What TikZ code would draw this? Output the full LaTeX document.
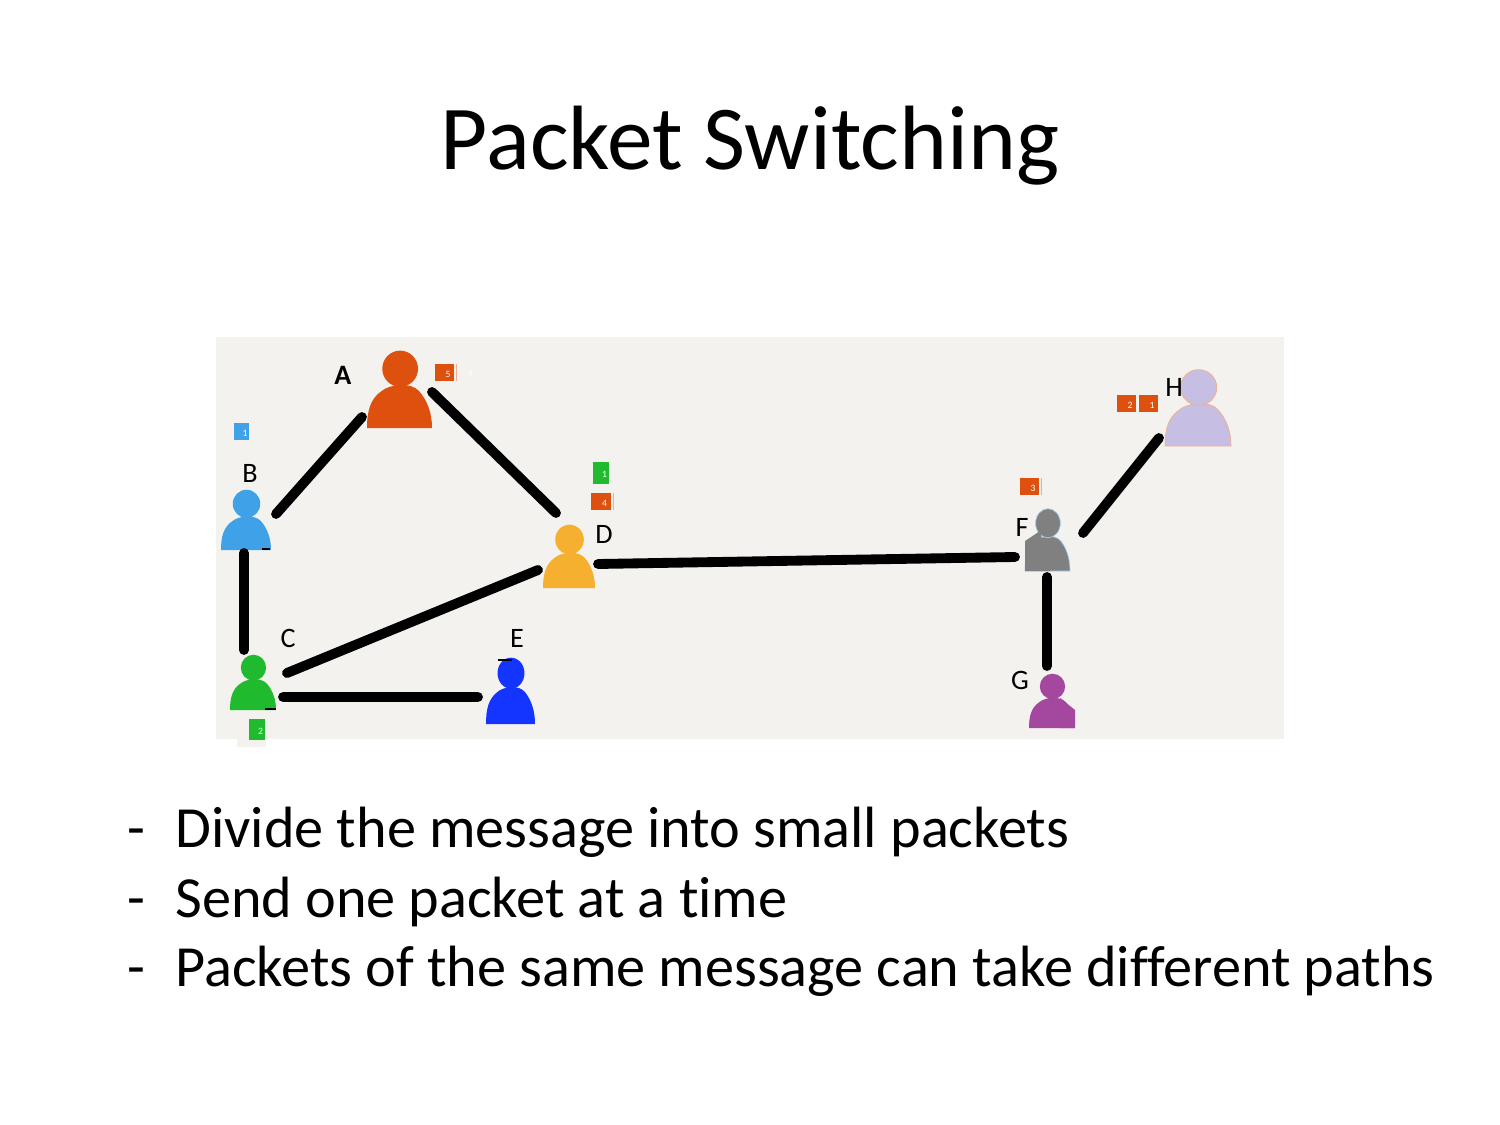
\documentclass[tikz,border=0pt]{standalone}
\usepackage{fontspec}
\usepackage{xcolor}
\setmainfont[Ligatures=NoCommon]{Carlito}
\definecolor{slidebg}{HTML}{F4F2EE}
\definecolor{pktorange}{HTML}{DE500E}
\definecolor{pktblue}{HTML}{3FA2E8}
\definecolor{pktgreen}{HTML}{1FBA2E}
\definecolor{pfaint}{HTML}{F0B090}
\definecolor{pyellow}{HTML}{F5B030}
\definecolor{pdeep}{HTML}{1434FF}
\definecolor{pgray}{HTML}{808080}
\definecolor{ppurple}{HTML}{A4479F}
\definecolor{plilac}{HTML}{C6BEE3}
\tikzset{
	link/.style={line width=5.6pt,line cap=round,black},
	personbox/.style={inner sep=0pt,rectangle},
	pkt/.style={rectangle,fill=#1,inner sep=0pt,minimum width=19*0.02cm,minimum height=17*0.02cm,text=white,font=\fontsize{5.5}{5.5}\selectfont,text height=5.5pt,text depth=0pt,execute at begin node={\hspace*{4pt}}},
	tag/.style={inner sep=0pt,font=\fontsize{16}{16}\selectfont},
	body/.style={inner sep=0pt,anchor=base west,font=\fontsize{33.15}{33.15}\selectfont},
}
% name, look, left, top, right, bottom
\newcommand{\person}[6]{
	\node[personbox,minimum width={(#5-#3)*0.02cm},minimum height={(#6-#4)*0.02cm}] (#1) at ({(#3+#5)/2},{(#4+#6)/2}) {};
	\begin{scope}[shift={({(#3+#5)/2},#6)},xscale={(#5-#3)/2},yscale={-(#6-#4)}]
		\path[#2] (-1,0) .. controls (-1,.22) and (-.9,.38) .. (-.55,.48) .. controls (-.3,.57) and (.35,.6) .. (.6,.48) .. controls (.85,.36) and (1,.2) .. (1,0) -- cycle;
		\path[#2] (.02,.77) circle [x radius=.55,y radius=.235];
	\end{scope}
}
\begin{document}
\begin{tikzpicture}[x=0.02cm,y=-0.02cm]
	\useasboundingbox (0,0) rectangle (1500,1125);
	\node[inner sep=0pt,font=\fontsize{52}{52}\selectfont,anchor=base] (title) at (750,170) {Packet Switching};

	\fill[slidebg] (216,337) rectangle (1284,739);
	\fill[slidebg] (237,708) rectangle (266,747);

	\person{A}{fill=pktorange}{367}{351}{432}{428}
	\person{B}{fill=pktblue}{221}{490}{271}{550}
	\person{C}{fill=pktgreen}{230}{655}{276}{710}
	\person{D}{fill=pyellow}{543}{525}{595}{588}
	\person{E}{fill=pdeep}{486}{658}{535}{724}
	\person{F}{fill=pgray,draw=pktblue!50,thin}{1025}{509}{1070}{571}
	\person{G}{fill=ppurple}{1029}{674}{1075}{728}
	\person{H}{fill=plilac,draw=pfaint,thin}{1165}{370}{1231}{446}
	\fill[pgray] (1025,571) -- (1025,541) -- (1040,531) -- (1050,571) -- cycle;
	\fill[ppurple] (1060,698) -- (1075,710) -- (1075,728) -- (1060,728) -- cycle;

	\foreach \p/\dx/\dy/\q/\ex/\ey in {A/-37.5/27.5/B/30/-6,A/32.5/2.5/D/-13/-43.5,B/-2/33/C/-9/-32.5,C/34/-9.5/D/-31/13.5,C/30/14.5/E/-32.5/6,D/29/7.5/F/-32.5/17,F/35.5/-7/H/-39/30,F/-.5/37/G/-5/-35}
		\draw[link] ([shift={(\dx,\dy)}]\p.center) -- ([shift={(\ex,\ey)}]\q.center);

	\draw[black,line width=1pt] (498,660) -- (512,660);
	\draw[black,line width=1pt] (265,709) -- (276,709);
	\draw[black,line width=.8pt] (262,549) -- (270,549);

	\node[tag,font=\fontsize{16}{16}\selectfont\bfseries] (lA) at (343,375) {A};
	\node[tag] (lB) at (250,473) {B};
	\node[tag] (lC) at (288,638) {C};
	\node[tag] (lD) at (604,534) {D};
	\node[tag] (lE) at (517,638) {E};
	\node[tag] (lF) at (1022,527) {F};
	\node[tag] (lG) at (1020,680) {G};
	\node[tag] (lH) at (1174,387) {H};

	\node[pkt=pktorange] (a5) at (444.5,372.5) {5};
	\node[inner sep=0pt,text=white,font=\fontsize{5.5}{5.5}\selectfont] (a4) at (470,373) {4};
	\node[pkt=pktblue,minimum width=15*0.02cm] (b1) at (241.5,431.5) {1};
	\node[pkt=pktgreen,minimum width=16*0.02cm,minimum height=22*0.02cm] (d1) at (601,473) {1};
	\node[pkt=pktorange,minimum width=20*0.02cm] (d4) at (601,501.5) {4};
	\node[pkt=pktgreen,minimum width=16*0.02cm,minimum height=21*0.02cm] (c2) at (257,729.5) {2};
	\node[pkt=pktorange] (f3) at (1029.5,486.5) {3};
	\node[pkt=pktorange] (h2) at (1126.5,403.5) {2};
	\node[pkt=pktorange] (h1) at (1148.5,403.5) {1};
	\draw[pfaint,line width=.5pt] (456.5,364) -- (456.5,381);
	\draw[pfaint,line width=.5pt] (613,493) -- (613,510);
	\draw[pfaint,line width=.5pt] (1041,478) -- (1041,495);

	\foreach \n/\y/\txt in {1/847/Divide the message into small packets,2/917/Send one packet at a time,3/986/Packets of the same message can take different paths}{
		\node[body] (dash\n) at (127,\y) {-};
		\node[body] (line\n) at (175,\y) {\txt};
	}
\end{tikzpicture}
\end{document}
